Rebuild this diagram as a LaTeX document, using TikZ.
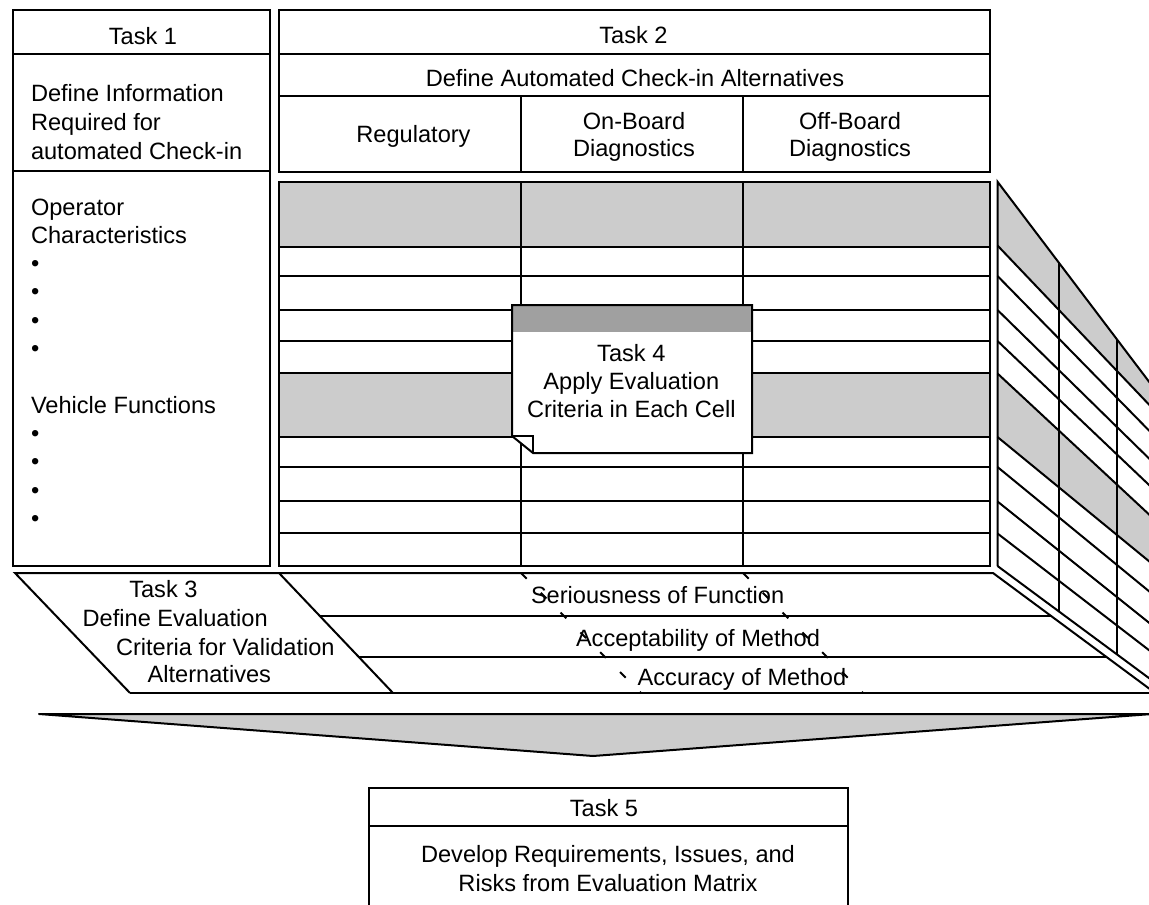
\documentclass[tikz,border=0pt]{standalone}
\usepackage{fontspec}
\setmainfont{Liberation Sans}
\definecolor{lgray}{RGB}{204,204,204}
\definecolor{mgray}{RGB}{160,160,160}
\begin{document}
\begin{tikzpicture}[x=1pt,y=-1pt,line width=2pt,
  lbl/.style={font=\fontsize{23.6}{28.3}\selectfont,inner sep=0pt,anchor=base},
  lbll/.style={lbl,anchor=base west},
  lightcell/.style={fill=lgray},
  dashline/.style={dash pattern=on 8pt off 20pt}]
\useasboundingbox (0,0) rectangle (1149,905);
\fill[white] (0,0) rectangle (1149,905);
\begin{scope}
\clip (0,0) rectangle (1149,905);

% ---- Task 1 column
\draw (13,10) rectangle (270,566);
\draw (13,54) -- (270,54);
\draw (13,171) -- (270,171);

% ---- Task 2 header
\draw (279,10) rectangle (990,172);
\draw (279,54) -- (990,54);
\draw (279,96) -- (990,96);
\draw (521,96) -- (521,172);
\draw (743,96) -- (743,172);

% ---- matrix
\fill[lightcell] (279,182) rectangle (990,247);
\fill[lightcell] (279,373) rectangle (990,437);
\draw (279,182) rectangle (990,566);
\foreach \yy in {247,276,310,341,373,437,467,501,533}
  \draw (279,\yy) -- (990,\yy);
\draw (521,182) -- (521,566);
\draw (743,182) -- (743,566);

% ---- side panel (perspective)
\fill[lightcell] (997.5,181.7) -- (1170,{181.7+1.32*172.5}) -- (1170,{245.5+1.05*172.5}) -- (997.5,245.5) -- cycle;
\fill[lightcell] (997.5,373.5) -- (1170,{373.5+0.93*172.5}) -- (1170,{437+0.82*172.5}) -- (997.5,437) -- cycle;
\draw (997.5,566) -- (997.5,181.7) -- (1170,{181.7+1.32*172.5});
\foreach \yy/\ss in {245.5/1.05,276/1.02,310/0.98,341/0.95,373.5/0.93,437/0.82,467/0.82,501.5/0.80,533.5/0.77,566/0.74}
  \draw (997.5,\yy) -- (1170,{\yy+\ss*172.5});
\draw (1059,{181.7+1.32*61.5}) -- (1059,{566+0.74*61.5});
\draw (1116.7,{181.7+1.32*119.2}) -- (1116.7,{566+0.74*119.2});

% ---- floor with Task 3
\draw (130,693) -- (15,573) -- (993,573) -- (1175,{573+0.74*182});
\draw (279,573) -- (393,693);
\draw (130,693) -- (1160,693);
\draw (319.9,616) -- (1051,616);
\draw (358.8,657) -- (1106.5,657);
\draw[dashline] (521,573) -- (641,693);
\draw[dashline] (743,573) -- (863,693);

% ---- big arrow
\filldraw[fill=lgray,line join=round] (39,714) -- (1152,714) -- (593,756) -- cycle;

% ---- Task 5 box
\draw (369,915) -- (369,788) -- (848,788) -- (848,915);
\draw (369,826) -- (848,826);

% ---- Task 4 note
\fill[white] (512,305) -- (752,305) -- (752,453) -- (533,453) -- (512,436) -- cycle;
\fill[mgray] (512,305) rectangle (752,332);
\draw (512,305) -- (752,305) -- (752,453) -- (533,453) -- (512,436) -- cycle;
\draw (512,436) -- (533,436) -- (533,453);

% ---- texts
\node[lbl] (t1h) at (143,44) {Task 1};
\node[lbll] (t1a) at (30,101.7) {Define Information};
\node[lbll] (t1b) at (30,130) {Required for};
\node[lbll] (t1c) at (30,159.5) {automated Check-in};
\foreach \t [count=\i] in {Operator,Characteristics,•,•,•,•,{},Vehicle Functions,•,•,•,•}
  \node[lbll] (l\i) at (30,{215+(\i-1)*28.3}) {\t};

\node[lbl] (t2h) at (633.5,43) {Task 2};
\node[lbl] (t2a) at (635,86) {Define Automated Check-in Alternatives};
\node[lbl] (c1) at (413.5,142) {Regulatory};
\node[lbl] (c2a) at (634,129.3) {On-Board};
\node[lbl] (c2b) at (634,156.7) {Diagnostics};
\node[lbl] (c3a) at (850,129.3) {Off-Board};
\node[lbl] (c3b) at (850,156.7) {Diagnostics};

\node[lbl] (t4a) at (631.3,361) {Task 4};
\node[lbl] (t4b) at (631.3,389.5) {Apply Evaluation};
\node[lbl] (t4c) at (631.3,417.8) {Criteria in Each Cell};

\node[lbll] (t3a) at (128.3,597.3) {Task 3};
\node[lbll] (t3b) at (81.7,626) {Define Evaluation};
\node[lbll] (t3c) at (115,655) {Criteria for Validation};
\node[lbll] (t3d) at (146.7,682.7) {Alternatives};

\node[lbll] (f1) at (530,603.3) {Seriousness of Function};
\node[lbll] (f2) at (575,646) {Acceptability of Method};
\node[lbll] (f3) at (636.7,685) {Accuracy of Method};

\node[lbl] (t5a) at (604,816.7) {Task 5};
\node[lbl] (t5b) at (608,862.7) {Develop Requirements, Issues, and};
\node[lbl] (t5c) at (608,891) {Risks from Evaluation Matrix};
\end{scope}
\end{tikzpicture}
\end{document}
